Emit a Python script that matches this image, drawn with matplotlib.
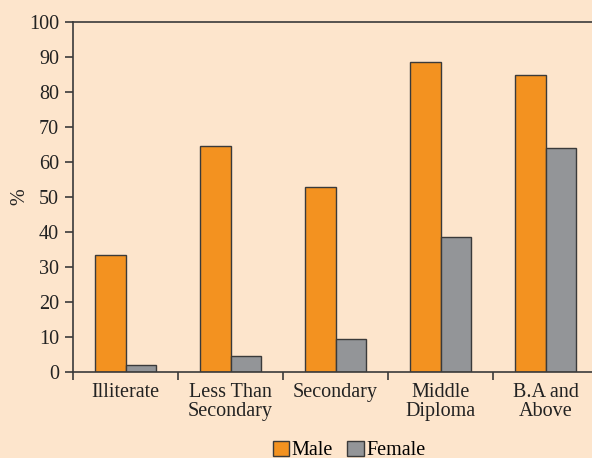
import matplotlib

matplotlib.use("Agg")
import matplotlib.pyplot as plt
import numpy as np

CATEGORIES = ["Illiterate", "Less Than\nSecondary", "Secondary", "Middle\nDiploma", "B.A and\nAbove"]
MALE = [33.5, 64.5, 53.0, 88.5, 85.0]
FEMALE = [2.0, 4.5, 9.5, 38.5, 64.0]
Y_TICKS = list(range(0, 101, 10))

BG = "#fde5cc"
ORANGE = "#f39220"
GREY = "#939598"
EDGE = "#3a3a3a"
FS = 14.5

plt.rcParams["font.family"] = ["Liberation Serif", "DejaVu Serif"]

fig = plt.figure(figsize=(5.92, 4.58), dpi=100, facecolor=BG)
ax = fig.add_axes([73 / 592, 86 / 458, 525 / 592, 350 / 458], facecolor=BG)

x = np.arange(len(CATEGORIES))
width = 0.286
ax.bar(x - width / 2, MALE, width, color=ORANGE, edgecolor=EDGE, linewidth=1.0, label="Male")
ax.bar(x + width / 2, FEMALE, width, color=GREY, edgecolor=EDGE, linewidth=1.0, label="Female")

ax.set_xlim(-0.5, len(CATEGORIES) - 0.5)
ax.set_ylim(0, 100)
ax.set_yticks(Y_TICKS)
ax.set_xticks(x)
ax.set_xticklabels(CATEGORIES, linespacing=1.0)
ax.set_xticks(np.arange(len(CATEGORIES) + 1) - 0.5, minor=True)
ax.tick_params(axis="x", which="major", length=0, pad=8)
ax.tick_params(axis="x", which="minor", length=6, width=1.2, color=EDGE)
ax.tick_params(axis="y", length=6, width=1.2, color=EDGE, pad=4)
ax.tick_params(labelsize=FS, labelcolor="#222222")

for side in ("left", "top", "bottom"):
    ax.spines[side].set_color(EDGE)
    ax.spines[side].set_linewidth(1.2)
ax.spines["right"].set_visible(False)

ax.set_ylabel("%", fontsize=FS, color="#222222", labelpad=0)

# legend sits low, partly below the figure edge
fig.legend(
    loc="lower center",
    bbox_to_anchor=(0.59, -0.045),
    ncol=2,
    frameon=False,
    fontsize=FS,
    handlelength=0.8,
    handleheight=0.8,
    handletextpad=0.15,
    columnspacing=0.7,
)

fig.savefig("out.png", dpi=100, facecolor=BG)
